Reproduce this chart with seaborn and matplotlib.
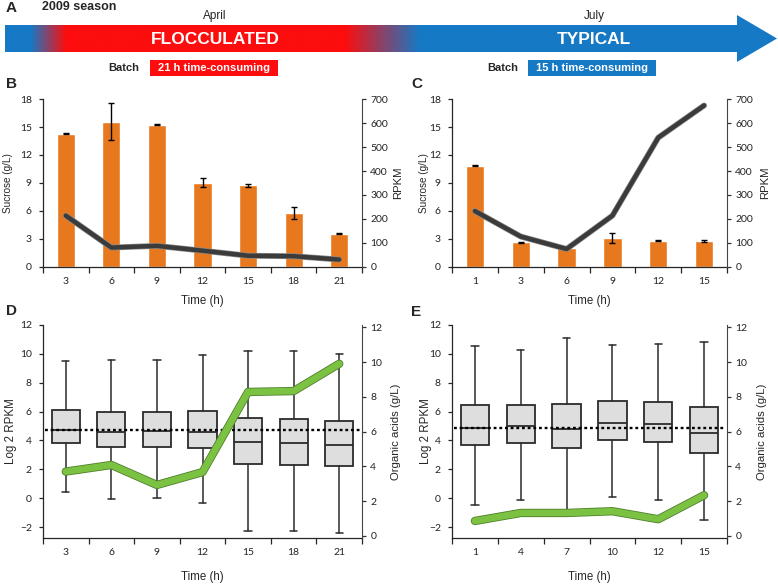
import numpy as np
import matplotlib
matplotlib.use("Agg")
from matplotlib import pyplot as plt
from matplotlib.patches import Polygon, Rectangle
import matplotlib.patheffects as pe
import seaborn as sns

sns.set_style("ticks")
plt.rcParams["font.family"] = ["Liberation Sans", "DejaVu Sans"]

# ---- data -------------------------------------------------------------
times_b = ["3", "6", "9", "12", "15", "18", "21"]
sucrose_b = [14.28, 15.55, 15.25, 9.03, 8.75, 5.78, 3.54]
sucrose_err_b = [0.05, 1.98, 0.08, 0.5, 0.18, 0.65, 0.05]
rpkm_b = [214, 81, 88, 68, 47, 45, 31]

times_c = ["1", "3", "6", "9", "12", "15"]
sucrose_c = [10.83, 2.64, 2.06, 3.07, 2.82, 2.78]
sucrose_err_c = [0.05, 0.05, 0.0, 0.55, 0.05, 0.08]
rpkm_c = [233, 127, 75, 214, 539, 673]

times_d = ["3", "6", "9", "12", "15", "18", "21"]
low_d = [0.4, -0.05, 0.0, -0.3, -2.3, -2.3, -2.4]
q1_d = [3.85, 3.55, 3.55, 3.45, 2.4, 2.3, 2.2]
med_d = [4.7, 4.6, 4.65, 4.6, 3.9, 3.8, 3.7]
q3_d = [6.1, 6.0, 5.95, 6.05, 5.55, 5.5, 5.35]
high_d = [9.5, 9.6, 9.55, 9.9, 10.2, 10.2, 10.0]
acids_d = [3.7, 4.08, 2.93, 3.67, 8.28, 8.33, 9.9]
overall_med_d = 4.72

times_e = ["1", "4", "7", "10", "12", "15"]
low_e = [-0.5, -0.1, -1.15, 0.1, -0.15, -1.5]
q1_e = [3.65, 3.8, 3.5, 4.05, 3.9, 3.15]
med_e = [4.85, 5.0, 4.8, 5.2, 5.15, 4.55]
q3_e = [6.45, 6.45, 6.55, 6.7, 6.65, 6.3]
high_e = [10.55, 10.3, 11.1, 10.6, 10.7, 10.85]
acids_e = [0.86, 1.32, 1.32, 1.42, 0.96, 2.34]
overall_med_e = 4.85

ORANGE = "#E8781E"
RED = "#FD0D0D"
BLUE = "#1679C5"
GREEN = "#7CC242"
TICKFONT = ["Lato", "DejaVu Sans"]

W, H = 778, 584
fig = plt.figure(figsize=(W / 100, H / 100), dpi=100)


def rect(l, r, t, b):
    return [l / W, 1 - b / H, (r - l) / W, (b - t) / H]


# ---- panel A (overlay in pixel coordinates) ----------------------------
ov = fig.add_axes([0, 0, 1, 1])
ov.set_xlim(0, W)
ov.set_ylim(H, 0)
ov.axis("off")
ov.patch.set_visible(False)

arrow = Polygon([(5, 25), (737, 25), (737, 15), (777, 38.5), (737, 62),
                 (737, 52), (5, 52)], closed=True, facecolor="none", edgecolor="none")
ov.add_patch(arrow)
xs = np.linspace(5, 777, 800)
stops = [5, 30, 66, 345, 420, 777]
rgb_b = np.array(matplotlib.colors.to_rgb(BLUE))
rgb_r = np.array(matplotlib.colors.to_rgb(RED))
cols = [rgb_b, rgb_b, rgb_r, rgb_r, rgb_b, rgb_b]
grad = np.stack([np.interp(xs, stops, [c[i] for c in cols]) for i in range(3)], axis=-1)
im = ov.imshow(grad[np.newaxis, :, :], extent=[5, 777, 62, 15], aspect="auto")
im.set_clip_path(arrow)

ov.text(6, 8, "A", fontsize=11, fontweight="bold", ha="left", va="center")
ov.text(42, 7, "2009 season", fontsize=9, fontweight="bold", ha="left", va="center")
ov.text(215, 16, "April", fontsize=8.5, ha="center", va="center")
ov.text(594, 16, "July", fontsize=8.5, ha="center", va="center")
ov.text(215, 39, "FLOCCULATED", fontsize=12.5, fontweight="bold", color="white",
        ha="center", va="center")
ov.text(594, 39, "TYPICAL", fontsize=12.5, fontweight="bold", color="white",
        ha="center", va="center")
ov.text(124, 68, "Batch", fontsize=8, fontweight="bold", ha="center", va="center")
ov.add_patch(Rectangle((150, 60), 128, 16, facecolor=RED, edgecolor="none"))
ov.text(214, 68, "21 h time-consuming", fontsize=8, fontweight="bold", color="white",
        ha="center", va="center")
ov.text(503, 68, "Batch", fontsize=8, fontweight="bold", ha="center", va="center")
ov.add_patch(Rectangle((528, 60), 128, 16, facecolor=BLUE, edgecolor="none"))
ov.text(592, 68, "15 h time-consuming", fontsize=8, fontweight="bold", color="white",
        ha="center", va="center")

for letter, x, y in [("B", 6, 84), ("C", 411, 84), ("D", 6, 311), ("E", 411, 312)]:
    ov.text(x, y, letter, fontsize=11, fontweight="bold", ha="left", va="center")


def style_axes(ax, ax2, times, l, r, t, b, left_lab, right_lab, left_px, right_px,
               left_size):
    n = len(times)
    ax.set_xlim(-0.5, n - 0.5)
    ax.set_xticks(np.arange(n + 1) - 0.5, labels=[""] * (n + 1))
    ax.set_xticks(np.arange(n), labels=times, minor=True)
    ax.tick_params(axis="x", which="major", length=4, width=0.9, direction="out")
    ax.tick_params(axis="x", which="minor", length=0, pad=7)
    ax.tick_params(axis="y", length=3, width=0.9, pad=5)
    ax2.tick_params(axis="y", length=3, width=0.9, pad=3, colors="#333333")
    for a in (ax, ax2):
        for lab in a.get_xticklabels(minor=True) + a.get_yticklabels():
            lab.set_fontfamily(TICKFONT)
            lab.set_fontsize(7.5)
            lab.set_color("#222222")
        a.spines["top"].set_visible(False)
    ax.spines["right"].set_visible(False)
    ax2.spines["right"].set_visible(True)
    ax2.spines["right"].set_color("#444444")
    for s in ("left", "bottom"):
        ax.spines[s].set_linewidth(0.9)
        ax2.spines[s].set_visible(False)
    ax.set_xlabel("Time (h)", fontsize=8.3)
    ax.xaxis.set_label_coords(0.5, -(34 if b < 300 else 39) / (b - t))
    ax.xaxis.label.set_va("center")
    ax.set_ylabel(left_lab, fontsize=left_size)
    ax.yaxis.set_label_coords((left_px - l) / (r - l), 0.5)
    ax.yaxis.label.set_va("center")
    ax2.set_ylabel(right_lab, fontsize=8.2)
    ax2.yaxis.set_label_coords((right_px - l) / (r - l), 0.5)
    ax2.yaxis.label.set_va("center")


def bar_panel(pos, times, sucrose, err, rpkm, left_px, right_px):
    l, r, t, b = pos
    ax = fig.add_axes(rect(l, r, t, b))
    sns.barplot(x=times, y=sucrose, color=ORANGE, width=0.4, saturation=1,
                errorbar=None, ax=ax)
    ax.errorbar(np.arange(len(times)), sucrose, yerr=err, fmt="none",
                ecolor="black", elinewidth=1, capsize=2.5, capthick=1)
    ax.set_ylim(0, 18)
    ax.set_yticks(np.arange(0, 19, 3))
    ax2 = ax.twinx()
    sns.lineplot(x=np.arange(len(times)), y=rpkm, ax=ax2, color="#3b3b3b",
                 linewidth=3.2, solid_capstyle="round", solid_joinstyle="round",
                 path_effects=[pe.Stroke(linewidth=4.2, foreground="#8a8a8a"), pe.Normal()])
    ax2.set_ylim(0, 700)
    ax2.set_yticks(np.arange(0, 701, 100))
    style_axes(ax, ax2, times, l, r, t, b, "Sucrose (g/L)", "RPKM", left_px, right_px, 7.2)


def box_panel(pos, times, low, q1, med, q3, high, acids, overall, left_px, right_px):
    l, r, t, b = pos
    ax = fig.add_axes(rect(l, r, t, b))
    stats = [dict(whislo=lo, q1=a, med=m, q3=c, whishi=hi, fliers=[])
             for lo, a, m, c, hi in zip(low, q1, med, q3, high)]
    ax.bxp(stats, positions=np.arange(len(times)), widths=0.62, patch_artist=True,
           showfliers=False, capwidths=0.16,
           boxprops=dict(facecolor="#DEDEDE", edgecolor="#2b2b2b", linewidth=1.3),
           medianprops=dict(color="#2b2b2b", linewidth=1.3),
           whiskerprops=dict(color="#2b2b2b", linewidth=1.1),
           capprops=dict(color="#2b2b2b", linewidth=1.1))
    ax.axhline(overall, color="black", linestyle=(0, (1.2, 1.2)), linewidth=1.7,
               xmin=0.006, xmax=0.995, zorder=4)
    ax.set_ylim(-2.76, 12)
    ax.set_yticks(np.arange(-2, 13, 2))
    ax2 = ax.twinx()
    sns.lineplot(x=np.arange(len(times)), y=acids, ax=ax2, color=GREEN,
                 linewidth=4.8, solid_capstyle="round", solid_joinstyle="round",
                 path_effects=[pe.Stroke(linewidth=6.0, foreground="#4f7f2c"), pe.Normal()])
    ax2.set_ylim(-0.12, 12.13)
    ax2.set_yticks(np.arange(0, 13, 2))
    style_axes(ax, ax2, times, l, r, t, b, "Log 2 RPKM", "Organic acids (g/L)",
               left_px, right_px, 8.3)


bar_panel((43, 362, 99, 267), times_b, sucrose_b, sucrose_err_b, rpkm_b, 8, 398)
bar_panel((452, 727, 99, 267), times_c, sucrose_c, sucrose_err_c, rpkm_c, 424, 765)
box_panel((43, 362, 325, 538), times_d, low_d, q1_d, med_d, q3_d, high_d, acids_d,
          overall_med_d, 11, 396)
box_panel((452, 727, 325, 538), times_e, low_e, q1_e, med_e, q3_e, high_e, acids_e,
          overall_med_e, 426, 762)

fig.savefig("out.png", dpi=100)
